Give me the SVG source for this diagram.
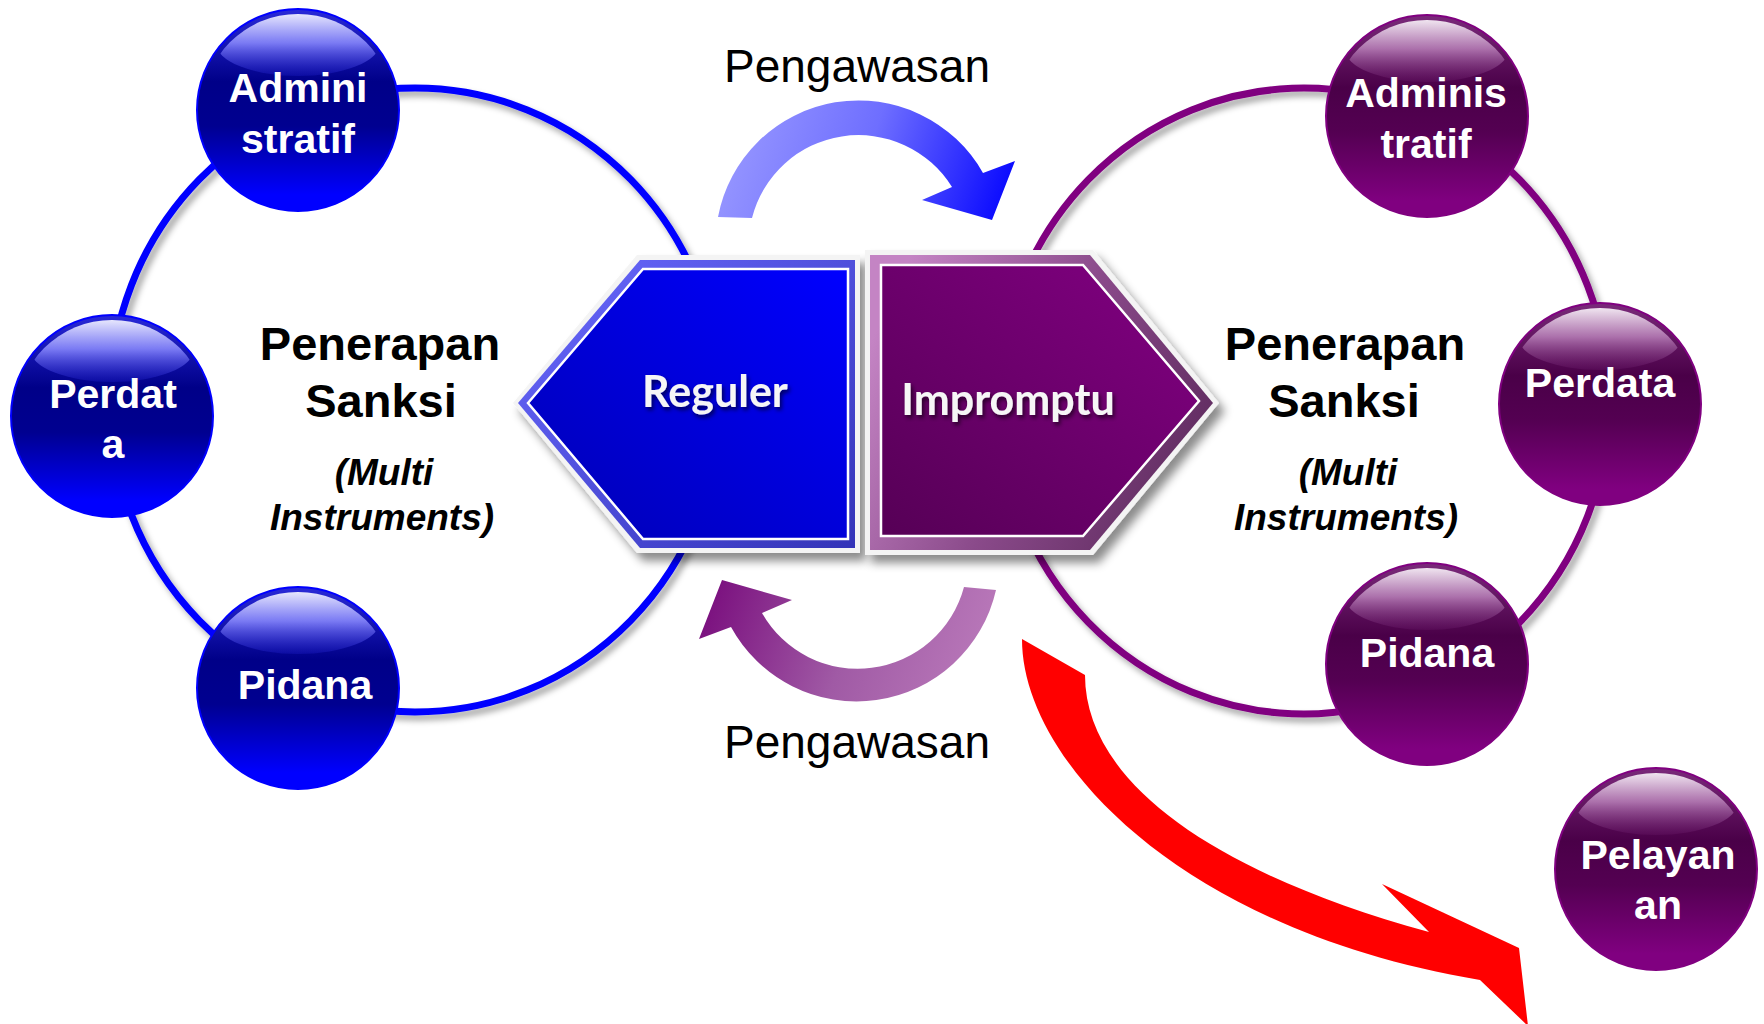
<svg xmlns="http://www.w3.org/2000/svg" width="1764" height="1024" viewBox="0 0 1764 1024">
  <defs>
    <filter id="ringShadow" x="-10%" y="-10%" width="130%" height="130%">
      <feDropShadow dx="4" dy="5" stdDeviation="3" flood-color="#000" flood-opacity="0.35"/>
    </filter>
    <filter id="hexShadow" x="-10%" y="-10%" width="130%" height="130%">
      <feDropShadow dx="6" dy="8" stdDeviation="5" flood-color="#000" flood-opacity="0.45"/>
    </filter>
    <filter id="textShadow" x="-10%" y="-20%" width="130%" height="150%">
      <feDropShadow dx="2" dy="3" stdDeviation="2" flood-color="#000" flood-opacity="0.6"/>
    </filter>
    <clipPath id="sphClip">
      <circle r="96"/>
    </clipPath>
    <linearGradient id="bBody" x1="0" y1="0" x2="0" y2="1">
      <stop offset="0" stop-color="#2a2ad8"/>
      <stop offset="0.36" stop-color="#000088"/>
      <stop offset="0.58" stop-color="#000090"/>
      <stop offset="0.92" stop-color="#0000ff"/>
      <stop offset="1" stop-color="#0000ff"/>
    </linearGradient>
    <linearGradient id="bHi" x1="0" y1="0" x2="0" y2="1">
      <stop offset="0" stop-color="#ffffff" stop-opacity="0.96"/>
      <stop offset="0.5" stop-color="#8c8cff" stop-opacity="0.85"/>
      <stop offset="1" stop-color="#2020d0" stop-opacity="0.3"/>
    </linearGradient>
    <linearGradient id="pBody" x1="0" y1="0" x2="0" y2="1">
      <stop offset="0" stop-color="#7a2a7a"/>
      <stop offset="0.36" stop-color="#4a0048"/>
      <stop offset="0.58" stop-color="#540052"/>
      <stop offset="0.92" stop-color="#800080"/>
      <stop offset="1" stop-color="#800080"/>
    </linearGradient>
    <linearGradient id="pHi" x1="0" y1="0" x2="0" y2="1">
      <stop offset="0" stop-color="#ffffff" stop-opacity="0.96"/>
      <stop offset="0.5" stop-color="#b880b8" stop-opacity="0.85"/>
      <stop offset="1" stop-color="#6a1a6a" stop-opacity="0.3"/>
    </linearGradient>
    <linearGradient id="regBand" x1="0" y1="0" x2="1" y2="1">
      <stop offset="0" stop-color="#6a6aff"/>
      <stop offset="1" stop-color="#3434b8"/>
    </linearGradient>
    <linearGradient id="regFill" x1="1" y1="0" x2="0" y2="1">
      <stop offset="0" stop-color="#0000ff"/>
      <stop offset="1" stop-color="#0000b4"/>
    </linearGradient>
    <linearGradient id="impBand" x1="0" y1="0.3" x2="1" y2="0.7">
      <stop offset="0" stop-color="#c484c4"/>
      <stop offset="0.5" stop-color="#8a4a8a"/>
      <stop offset="1" stop-color="#5e2a5e"/>
    </linearGradient>
    <linearGradient id="impFill" x1="1" y1="0" x2="0" y2="1">
      <stop offset="0" stop-color="#820082"/>
      <stop offset="1" stop-color="#560056"/>
    </linearGradient>
    <linearGradient id="arrBlue" gradientUnits="userSpaceOnUse" x1="720" y1="130" x2="1000" y2="225">
      <stop offset="0" stop-color="#9a9aff"/>
      <stop offset="0.5" stop-color="#6e6eff"/>
      <stop offset="1" stop-color="#0808ff"/>
    </linearGradient>
    <linearGradient id="arrPurple" gradientUnits="userSpaceOnUse" x1="720" y1="130" x2="1000" y2="225">
      <stop offset="0" stop-color="#bb7bbb"/>
      <stop offset="0.5" stop-color="#a05aa5"/>
      <stop offset="1" stop-color="#7a0f7e"/>
    </linearGradient>
    <style>
      .lbl { font-family: "Liberation Sans", Arial, sans-serif; font-weight: bold; font-size: 41px; fill: #ffffff; text-anchor: middle; }
      .title { font-family: "Liberation Sans", Arial, sans-serif; font-weight: bold; font-size: 47px; fill: #000; text-anchor: middle; }
      .sub { font-family: "Liberation Sans", Arial, sans-serif; font-weight: bold; font-style: italic; font-size: 37px; fill: #000; text-anchor: middle; }
      .peng { font-family: "Liberation Sans", Arial, sans-serif; font-size: 46px; fill: #000; text-anchor: middle; }
      .hexlbl { font-family: Lato, "Open Sans", sans-serif; font-weight: bold; font-size: 43px; fill: #f6f6f6; text-anchor: middle; }
      .bsph { fill: url(#bBody); stroke: #0000ff; stroke-width: 2; }
      .bhi { fill: url(#bHi); clip-path: url(#sphClip); }
      .psph { fill: url(#pBody); stroke: #800080; stroke-width: 2; }
      .phi { fill: url(#pHi); clip-path: url(#sphClip); }
    </style>
  </defs>
  <rect width="1764" height="1024" fill="#ffffff"/>

  <g id="connectors">
    <ellipse id="ring-left" cx="415" cy="400" rx="305" ry="312" fill="none" stroke="#0000ff" stroke-width="7" filter="url(#ringShadow)"/>
    <ellipse id="ring-right" cx="1304" cy="401" rx="305" ry="313" fill="none" stroke="#800080" stroke-width="7" filter="url(#ringShadow)"/>
    <path id="arrow-top" d="M718,217 A143,143 0 0 1 983,173 L1015,161 L992,220 L922,200 L952,187 A110,110 0 0 0 752,218 Z" fill="url(#arrBlue)"/>
    <path id="arrow-bottom" transform="rotate(180 857 400)" d="M718,210 A143,143 0 0 1 983,173 L1015,161 L992,220 L922,200 L952,187 A110,110 0 0 0 750,213 Z" fill="url(#arrPurple)"/>
    <path id="arrow-red" d="M1022,639 C1022,760 1180,930 1480,980 L1528,1026 L1519,948 L1382,884 L1429,932 C1210,872 1085,780 1085,675 Z" fill="#ff0000"/>
  </g>

  <g id="node-administratif-left" transform="translate(298,110)">
    <circle r="101" class="bsph"/>
    <ellipse cy="-67" rx="82" ry="33" class="bhi"/>
    <text class="lbl" x="0" y="-8">Admini</text>
    <text class="lbl" x="0" y="43">stratif</text>
  </g>
  <g id="node-perdata-left" transform="translate(112,416)">
    <circle r="101" class="bsph"/>
    <ellipse cy="-67" rx="82" ry="33" class="bhi"/>
    <text class="lbl" x="1" y="-8">Perdat</text>
    <text class="lbl" x="1" y="42">a</text>
  </g>
  <g id="node-pidana-left" transform="translate(298,688)">
    <circle r="101" class="bsph"/>
    <ellipse cy="-67" rx="82" ry="33" class="bhi"/>
    <text class="lbl" x="7" y="11">Pidana</text>
  </g>

  <g id="node-administratif-right" transform="translate(1427,116)">
    <circle r="101" class="psph"/>
    <ellipse cy="-67" rx="82" ry="33" class="phi"/>
    <text class="lbl" x="-1" y="-9">Adminis</text>
    <text class="lbl" x="-1" y="42">tratif</text>
  </g>
  <g id="node-perdata-right" transform="translate(1600,404)">
    <circle r="101" class="psph"/>
    <ellipse cy="-67" rx="82" ry="33" class="phi"/>
    <text class="lbl" x="0" y="-7">Perdata</text>
  </g>
  <g id="node-pidana-right" transform="translate(1427,664)">
    <circle r="101" class="psph"/>
    <ellipse cy="-67" rx="82" ry="33" class="phi"/>
    <text class="lbl" x="0" y="3">Pidana</text>
  </g>
  <g id="node-pelayanan" transform="translate(1656,869)">
    <circle r="101" class="psph"/>
    <ellipse cy="-67" rx="82" ry="33" class="phi"/>
    <text class="lbl" x="2" y="0">Pelayan</text>
    <text class="lbl" x="2" y="50">an</text>
  </g>

  <g id="node-reguler">
    <polygon points="513,403 637,255 860,255 860,553 637,553" fill="#f4f4f4" filter="url(#hexShadow)"/>
    <polygon points="518,403 640,260 855,260 855,548 640,548" fill="url(#regBand)"/>
    <polygon points="528,403 643,269 848,269 848,539 643,539" fill="url(#regFill)" stroke="#ffffff" stroke-width="2.5"/>
    <text class="hexlbl" x="715" y="407" filter="url(#textShadow)">Reguler</text>
  </g>
  <g id="node-impromptu">
    <polygon points="865,250 1093,250 1219,403 1093,555 865,555" fill="#f4f4f4" filter="url(#hexShadow)"/>
    <polygon points="870,255 1090,255 1213,403 1090,550 870,550" fill="url(#impBand)"/>
    <polygon points="881,265 1083,265 1199,401 1083,536 881,536" fill="url(#impFill)" stroke="#ffffff" stroke-width="2.5"/>
    <text class="hexlbl" x="1008" y="415" filter="url(#textShadow)">Impromptu</text>
  </g>

  <g id="label-penerapan-left">
    <text class="title" x="380" y="360">Penerapan</text>
    <text class="title" x="381" y="417">Sanksi</text>
    <text class="sub" x="384" y="485">(Multi</text>
    <text class="sub" x="382" y="530">Instruments)</text>
  </g>
  <g id="label-penerapan-right">
    <text class="title" x="1345" y="360">Penerapan</text>
    <text class="title" x="1344" y="417">Sanksi</text>
    <text class="sub" x="1348" y="485">(Multi</text>
    <text class="sub" x="1346" y="530">Instruments)</text>
  </g>
  <g id="label-pengawasan-top">
    <text class="peng" x="857" y="82">Pengawasan</text>
  </g>
  <g id="label-pengawasan-bottom">
    <text class="peng" x="857" y="758">Pengawasan</text>
  </g>
</svg>
